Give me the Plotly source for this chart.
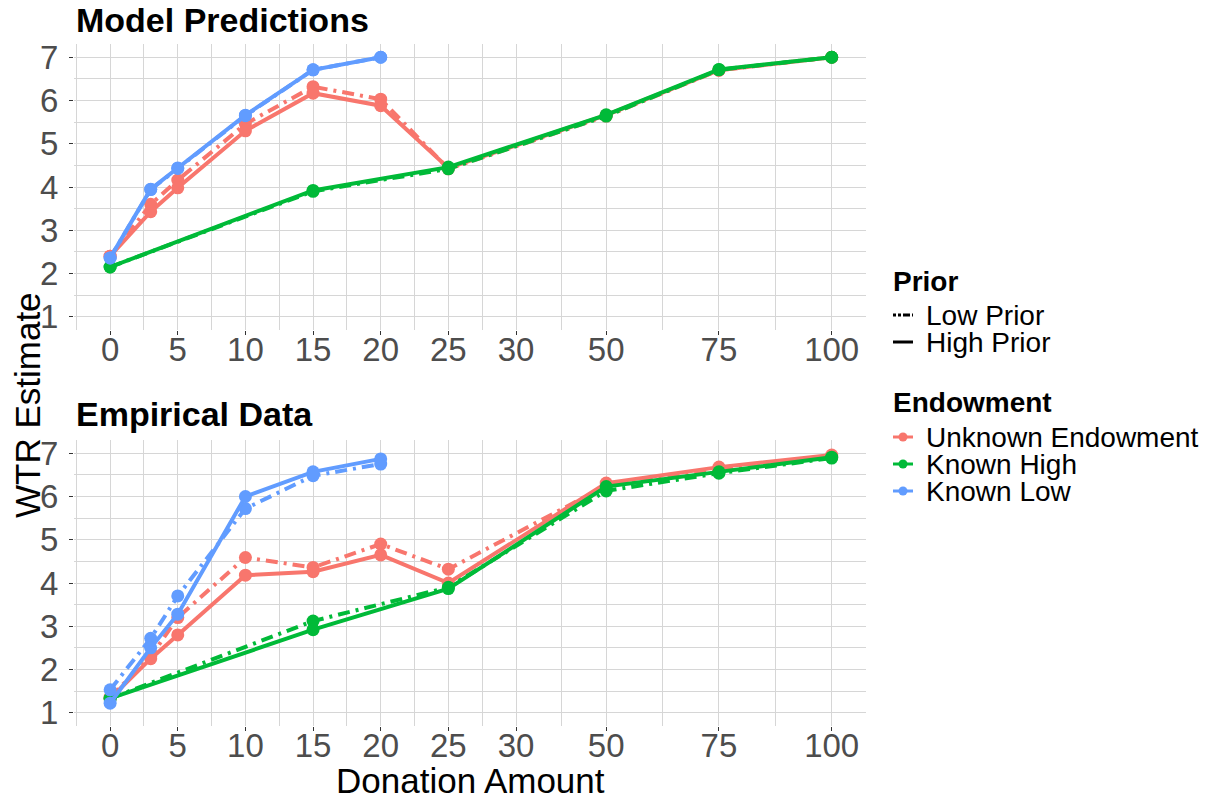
import plotly.graph_objects as go

# ---------------- data ----------------
tick_values = [0, 5, 10, 15, 20, 25, 30, 50, 75, 100]
tick_labels = ["0", "5", "10", "15", "20", "25", "30", "50", "75", "100"]
minor_values = [-2.5, 2.5, 7.5, 12.5, 17.5, 22.5, 27.5, 40, 62.5, 87.5]

x_unknown = [0, 3, 5, 10, 15, 20, 25, 50, 75, 100]
x_known_high = [0, 15, 25, 50, 75, 100]
x_known_low = [0, 3, 5, 10, 15, 20]

# Model predictions
model_unknown_low = [2.40, 3.60, 4.16, 5.46, 6.32, 6.03, 4.42, 5.64, 6.70, 7.00]
model_unknown_high = [2.40, 3.43, 3.98, 5.30, 6.17, 5.88, 4.44, 5.66, 6.70, 7.00]
model_high_low = [2.15, 3.90, 4.42, 5.64, 6.71, 7.00]
model_high_high = [2.15, 3.92, 4.46, 5.67, 6.72, 7.00]
model_low_low = [2.36, 3.94, 4.43, 5.65, 6.71, 7.00]
model_low_high = [2.36, 3.95, 4.44, 5.66, 6.71, 7.00]

# Empirical data
emp_unknown_low = [1.36, 2.30, 3.20, 4.59, 4.36, 4.90, 4.32, 6.25, 6.60, 6.93]
emp_unknown_high = [1.33, 2.25, 2.80, 4.18, 4.26, 4.65, 4.00, 6.31, 6.68, 6.96]
emp_high_low = [1.33, 3.12, 3.90, 6.13, 6.54, 6.89]
emp_high_high = [1.33, 2.92, 3.87, 6.23, 6.57, 6.91]
emp_low_low = [1.53, 2.72, 3.70, 5.72, 6.48, 6.75]
emp_low_high = [1.22, 2.50, 3.28, 6.00, 6.57, 6.87]

endowments = ["Unknown Endowment", "Known High", "Known Low"]
colors = {"Unknown Endowment": "#F8766D", "Known High": "#00BA38", "Known Low": "#619CFF"}
priors = ["Low Prior", "High Prior"]
dashes = {"Low Prior": "12px,6px,3px,6px", "High Prior": "solid"}


def squish(v):
    """Axis transform: linear up to 30, compressed 3x above 30."""
    return v if v <= 30 else 30 + (v - 30) / 3.0


panels = {
    "model": {
        "Unknown Endowment": (x_unknown, model_unknown_low, model_unknown_high),
        "Known High": (x_known_high, model_high_low, model_high_high),
        "Known Low": (x_known_low, model_low_low, model_low_high),
    },
    "emp": {
        "Unknown Endowment": (x_unknown, emp_unknown_low, emp_unknown_high),
        "Known High": (x_known_high, emp_high_low, emp_high_high),
        "Known Low": (x_known_low, emp_low_low, emp_low_high),
    },
}

# page has an 8px body margin; figure is sized to fit the 1216x803 window
OFF = 8
W, H = 1216 - 2 * OFF, 803 - 2 * OFF
FONT = "Liberation Sans, Arial, Helvetica, sans-serif"


def px(x):
    return (x - OFF) / W


def py(y):
    return 1 - (y - OFF) / H


fig = go.Figure()

axes = {"model": ("x", "y"), "emp": ("x2", "y2")}
for pname, (xa, ya) in axes.items():
    for end in endowments:
        xs, lowv, highv = panels[pname][end]
        xt = [squish(v) for v in xs]
        for prior, vals in (("Low Prior", lowv), ("High Prior", highv)):
            fig.add_trace(go.Scatter(
                x=xt, y=vals, xaxis=xa, yaxis=ya, mode="lines+markers",
                line=dict(color=colors[end], width=4, dash=dashes[prior]),
                marker=dict(color=colors[end], size=13),
                showlegend=False, hoverinfo="skip",
            ))

xt_vals = [squish(v) for v in tick_values]
xm_vals = [squish(v) for v in minor_values] + [55.8]

GRID = "#D6D6D6"
xcommon = dict(
    range=[-2.67, 55.87], tickmode="array", tickvals=xt_vals, ticktext=tick_labels,
    showgrid=True, gridcolor=GRID, gridwidth=1.2, zeroline=False, showline=False,
    ticks="outside", ticklen=4, tickcolor="#333333", tickwidth=1,
    tickfont=dict(size=33, color="#4D4D4D", family=FONT),
    ticklabelstandoff=-13,
    minor=dict(tickmode="array", tickvals=xm_vals, showgrid=True, gridcolor=GRID, gridwidth=1, ticks=""),
    fixedrange=True, automargin=False,
)
ycommon = dict(
    range=[0.7, 7.3], tickmode="array", tickvals=[1, 2, 3, 4, 5, 6, 7],
    showgrid=True, gridcolor=GRID, gridwidth=1.2, zeroline=False, showline=False,
    ticks="outside", ticklen=4, tickcolor="#333333", tickwidth=1,
    tickfont=dict(size=33, color="#4D4D4D", family=FONT),
    minor=dict(tickmode="array", tickvals=[1.5, 2.5, 3.5, 4.5, 5.5, 6.5], showgrid=True,
               gridcolor=GRID, gridwidth=1, ticks=""),
    ticklabelstandoff=4,
    fixedrange=True, automargin=False,
)

xd = [px(74), px(866)]

annotations = [
    dict(text="<b>Model Predictions</b>", x=px(74), y=py(20), xanchor="left", yanchor="middle",
         font=dict(size=34, family=FONT, color="black")),
    dict(text="<b>Empirical Data</b>", x=px(74), y=py(414), xanchor="left", yanchor="middle",
         font=dict(size=34, family=FONT, color="black")),
    dict(text="Donation Amount", x=px(470), y=py(780), xanchor="center", yanchor="middle",
         font=dict(size=35, family=FONT, color="black")),
    dict(text="WTR Estimate", x=px(27), y=py(405), textangle=-90, xanchor="center", yanchor="middle",
         font=dict(size=35, family=FONT, color="black")),
    # legend titles
    dict(text="<b>Prior</b>", x=px(891), y=py(281), xanchor="left", yanchor="middle",
         font=dict(size=28, family=FONT, color="black")),
    dict(text="<b>Endowment</b>", x=px(891), y=py(402), xanchor="left", yanchor="middle",
         font=dict(size=28, family=FONT, color="black")),
]
shapes = []

# legend: Prior (line type)
prior_rows = {"Low Prior": 315, "High Prior": 342}
key_dash = {"Low Prior": "3px,2px,3px,2px,7px,2px", "High Prior": "solid"}
for prior in priors:
    yy = prior_rows[prior]
    shapes.append(dict(type="line", xref="paper", yref="paper", x0=px(893), x1=px(913), y0=py(yy), y1=py(yy),
                       line=dict(color="black", width=3, dash=key_dash[prior])))
    annotations.append(dict(text=prior, x=px(924), y=py(yy), xanchor="left", yanchor="middle",
                            font=dict(size=28, family=FONT, color="black")))

# legend: Endowment (colour)
end_rows = {"Unknown Endowment": 437, "Known High": 464, "Known Low": 491}
for end in endowments:
    yy = end_rows[end]
    shapes.append(dict(type="line", xref="paper", yref="paper", x0=px(893), x1=px(913), y0=py(yy), y1=py(yy),
                       line=dict(color=colors[end], width=3)))
    shapes.append(dict(type="circle", xref="paper", yref="paper", x0=px(898.5), x1=px(907.5),
                       y0=py(yy + 4.5), y1=py(yy - 4.5), fillcolor=colors[end], line=dict(width=0)))
    annotations.append(dict(text=end, x=px(924), y=py(yy), xanchor="left", yanchor="middle",
                            font=dict(size=28, family=FONT, color="black")))

for a in annotations:
    a.update(xref="paper", yref="paper", showarrow=False)

fig.update_layout(
    width=W, height=H, plot_bgcolor="white", paper_bgcolor="white",
    margin=dict(l=0, r=0, t=0, b=0, autoexpand=False),
    font=dict(family=FONT, color="black"),
    xaxis=dict(domain=xd, anchor="y", **xcommon),
    yaxis=dict(domain=[py(329.7), py(44.3)], anchor="x", **ycommon),
    xaxis2=dict(domain=xd, anchor="y2", **xcommon),
    yaxis2=dict(domain=[py(725.7), py(440.3)], anchor="x2", **ycommon),
    showlegend=False,
    annotations=annotations,
    shapes=shapes,
)

fig.write_html("out.html")
